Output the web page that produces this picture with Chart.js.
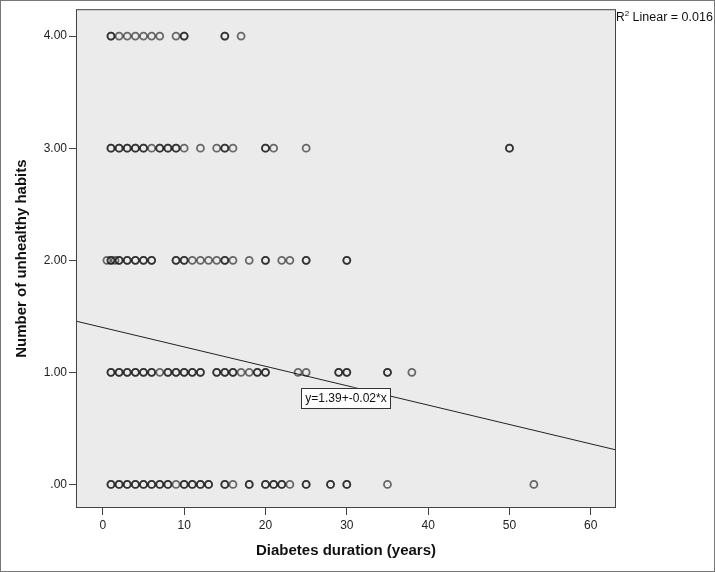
<!DOCTYPE html>
<html>
<head>
<meta charset="utf-8">
<script src="https://cdn.jsdelivr.net/npm/chart.js@4.4.1/dist/chart.umd.min.js"></script>
<style>
  html, body { margin: 0; padding: 0; background: #fff; }
</style>
</head>
<body>
<canvas id="myChart" width="715" height="572"></canvas>
<script>
// ------------- data -----------------------------------------------
const habitTicks = [0, 1, 2, 3, 4];
const durationTicks = [0, 10, 20, 30, 40, 50, 60];

// diabetes duration (years) for each number of unhealthy habits
// repeated values = overlapping cases (drawn darker)
const habits0 = [1, 1, 2, 2, 3, 3, 4, 4, 5, 5, 6, 6, 7, 7, 8, 8, 9, 10, 10, 11, 11, 12, 12, 13, 13,
  15, 15, 16, 18, 18, 20, 20, 21, 21, 22, 22, 23, 25, 25, 28, 28, 30, 30, 35, 53];
const habits1 = [1, 1, 2, 2, 3, 3, 4, 4, 5, 5, 6, 6, 7, 8, 8, 9, 9, 10, 10, 11, 11, 12, 12,
  14, 14, 15, 15, 16, 16, 17, 18, 19, 19, 20, 20, 24, 25, 29, 29, 30, 30, 35, 35, 38];
const habits2 = [0.5, 1, 1, 1.5, 2, 2, 3, 3, 4, 4, 5, 5, 6, 6, 9, 9, 10, 10, 11, 12, 13, 14, 15, 15, 16,
  18, 20, 20, 22, 23, 25, 25, 30, 30];
const habits3 = [1, 1, 2, 2, 3, 3, 4, 4, 5, 5, 6, 7, 7, 8, 8, 9, 9, 10, 12, 14, 15, 15, 16,
  20, 20, 21, 25, 50, 50];
const habits4 = [1, 1, 2, 3, 4, 5, 6, 7, 9, 10, 10, 15, 15, 17];

const habitRows = [habits0, habits1, habits2, habits3, habits4];

const fitIntercept = 1.40;
const fitSlope = -0.0173;
const fitLabel = "y=1.39+-0.02*x";
const r2Value = "0.016";

const xMin = -3.3, xMax = 63.1;
const yMin = -0.21, yMax = 4.24;

const points = [];
habitRows.forEach((row, i) => {
  row.forEach((d) => points.push({ x: d, y: habitTicks[i] }));
});

const fitLine = [xMin, xMax].map((x) => ({ x: x, y: fitIntercept + fitSlope * x }));

const FONT = "'Liberation Sans', Arial, sans-serif";

// plot background, borders, fit label and R2 text
const spssFrame = {
  id: "spssFrame",
  beforeDraw(chart) {
    const { ctx, chartArea: a } = chart;
    ctx.save();
    ctx.fillStyle = "#fff";
    ctx.fillRect(0, 0, chart.width, chart.height);
    ctx.fillStyle = "#ebebeb";
    ctx.fillRect(a.left, a.top, a.right - a.left, a.bottom - a.top);
    ctx.restore();
  },
  afterDraw(chart) {
    const { ctx, chartArea: a, scales } = chart;
    ctx.save();
    ctx.strokeStyle = "#444";
    ctx.lineWidth = 1;
    ctx.strokeRect(a.left + 0.5, a.top + 0.5, a.right - a.left - 1, a.bottom - a.top - 1);

    ctx.strokeStyle = "#777";
    ctx.strokeRect(0.5, 0.5, chart.width - 1, chart.height - 1);

    // equation box
    ctx.font = "12px " + FONT;
    const cx = scales.x.getPixelForValue(29.9);
    const cy = scales.y.getPixelForValue(0.773);
    const w = ctx.measureText(fitLabel).width + 8;
    const h = 20;
    ctx.fillStyle = "#fff";
    ctx.fillRect(cx - w / 2, cy - h / 2, w, h);
    ctx.strokeStyle = "#333";
    ctx.strokeRect(Math.round(cx - w / 2) + 0.5, Math.round(cy - h / 2) + 0.5, Math.round(w), h);
    ctx.fillStyle = "#111";
    ctx.textAlign = "center";
    ctx.textBaseline = "middle";
    ctx.fillText(fitLabel, cx, cy + 1);

    // R2 label
    ctx.textAlign = "left";
    ctx.textBaseline = "alphabetic";
    let tx = a.right + 0;
    const ty = 21;
    ctx.font = "12px " + FONT;
    ctx.fillText("R", tx, ty);
    tx += ctx.measureText("R").width;
    ctx.font = "8px " + FONT;
    ctx.fillText("2", tx, ty - 5);
    tx += ctx.measureText("2").width;
    ctx.font = "12.5px " + FONT;
    ctx.fillText(" Linear = " + r2Value, tx, ty);
    ctx.restore();
  },
};

const ctx = document.getElementById("myChart");
new Chart(ctx, {
  type: "scatter",
  data: {
    datasets: [
      {
        label: "cases",
        data: points,
        pointRadius: 3.5,
        pointBorderWidth: 1.8,
        pointBackgroundColor: "rgba(0,0,0,0)",
        pointBorderColor: "rgba(15,15,15,0.6)",
        pointHoverRadius: 3.5,
      },
      {
        type: "line",
        label: "fit",
        data: fitLine,
        borderColor: "#222",
        borderWidth: 1,
        pointRadius: 0,
        fill: false,
      },
    ],
  },
  options: {
    responsive: false,
    animation: false,
    events: [],
    layout: { padding: { left: 0, right: 99, top: 7, bottom: 0 } },
    plugins: {
      legend: { display: false },
      tooltip: { enabled: false },
    },
    scales: {
      x: {
        type: "linear",
        min: xMin,
        max: xMax,
        afterBuildTicks: (s) => { s.ticks = durationTicks.map((v) => ({ value: v })); },
        afterFit: (s) => { s.height = 64; },
        grid: { drawOnChartArea: false, tickLength: 7, color: "#444" },
        border: { display: false },
        ticks: { color: "#222", padding: 3, font: { family: FONT, size: 12 }, maxRotation: 0 },
        title: {
          display: true,
          text: "Diabetes duration (years)",
          color: "#111",
          font: { family: FONT, size: 15, weight: "bold" },
          padding: { top: 0, bottom: 12 },
        },
      },
      y: {
        type: "linear",
        min: yMin,
        max: yMax,
        afterBuildTicks: (s) => { s.ticks = habitTicks.map((v) => ({ value: v })); },
        afterFit: (s) => { s.width = 76; },
        grid: { drawOnChartArea: false, tickLength: 7, color: "#444" },
        border: { display: false },
        ticks: {
          color: "#222",
          padding: 2,
          font: { family: FONT, size: 12 },
          callback: (v) => (v === 0 ? ".00" : v.toFixed(2)),
        },
        title: {
          display: true,
          text: "Number of unhealthy habits",
          color: "#111",
          font: { family: FONT, size: 15, weight: "bold" },
          padding: { top: 13, bottom: 0 },
        },
      },
    },
  },
  plugins: [spssFrame],
});
</script>
</body>
</html>
